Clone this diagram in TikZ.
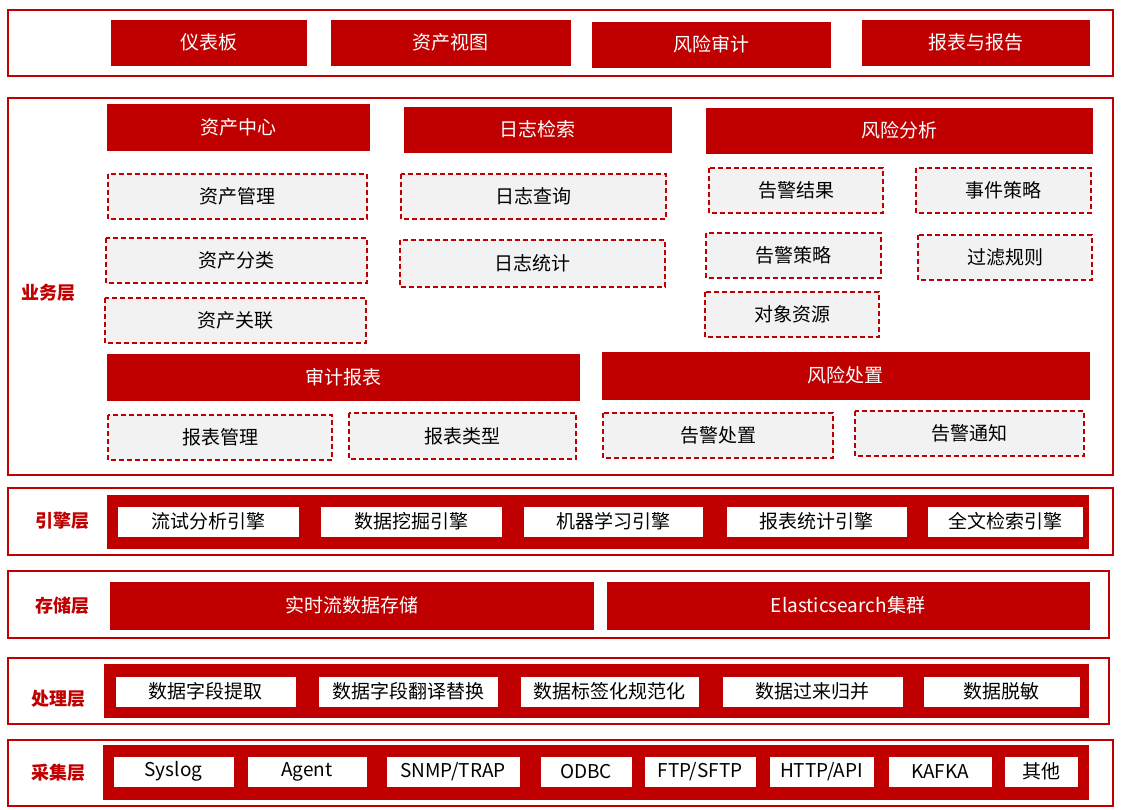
\documentclass[tikz,border=0pt]{standalone}
\usepackage{fontspec}
\setmainfont{Noto Sans CJK SC}
\definecolor{rd}{HTML}{C00000}
\definecolor{lg}{HTML}{F2F2F2}
\begin{document}
\begin{tikzpicture}[x=1pt,y=-1pt,
 panel/.style={draw=rd,line width=1.3pt},
 rbox/.style={fill=rd,draw=rd,text=white,font=\fontsize{19}{22}\selectfont},
 dbox/.style={draw=rd,dash pattern=on 5pt off 3pt,line width=1.2pt,fill=lg,font=\fontsize{19}{22}\selectfont},
 wbox/.style={fill=white,draw=white,font=\fontsize{19}{22}\selectfont},
 lab/.style={text=rd,font=\bfseries\fontsize{18}{20}\selectfont}]
\useasboundingbox (0,0) rectangle (1121,810);
\newcommand{\bx}[6]{\draw[#1] (#2,#3) rectangle (#4,#5) node[midway] (n#2x#3) {#6};}
% top
\bx{panel}{8}{10}{1113}{76}{}
\bx{rbox}{111}{20}{306}{65}{仪表板}
\bx{rbox}{331}{20}{570}{65}{资产视图}
\bx{rbox}{592}{22}{830}{67}{风险审计}
\bx{rbox}{862}{20}{1089}{65}{报表与报告}
% business
\bx{panel}{8}{98}{1113}{475}{}
\node[lab] (l1) at (48,293) {业务层};
\bx{rbox}{107}{104}{369}{150}{资产中心}
\bx{rbox}{404}{107}{671}{152}{日志检索}
\bx{rbox}{706}{108}{1092}{153}{风险分析}
\bx{dbox}{108}{174}{367}{219}{资产管理}
\bx{dbox}{106}{238}{367}{283}{资产分类}
\bx{dbox}{105}{298}{366}{343}{资产关联}
\bx{dbox}{401}{174}{666}{219}{日志查询}
\bx{dbox}{400}{240}{665}{287}{日志统计}
\bx{dbox}{709}{168}{883}{213}{告警结果}
\bx{dbox}{916}{168}{1091}{213}{事件策略}
\bx{dbox}{706}{233}{881}{278}{告警策略}
\bx{dbox}{918}{235}{1092}{280}{过滤规则}
\bx{dbox}{705}{292}{879}{337}{对象资源}
\bx{rbox}{107}{354}{579}{400}{审计报表}
\bx{rbox}{602}{352}{1089}{399}{风险处置}
\bx{dbox}{108}{415}{332}{460}{报表管理}
\bx{dbox}{349}{413}{576}{459}{报表类型}
\bx{dbox}{603}{413}{833}{458}{告警处置}
\bx{dbox}{855}{411}{1084}{456}{告警通知}
% engine
\bx{panel}{8}{488}{1113}{555}{}
\node[lab] (l2) at (62,521) {引擎层};
\fill[rd] (107,495) rectangle (1089,549);
\bx{wbox}{118}{507}{298}{536}{流试分析引擎}
\bx{wbox}{321}{507}{501}{536}{数据挖掘引擎}
\bx{wbox}{524}{507}{702}{536}{机器学习引擎}
\bx{wbox}{727}{507}{906}{536}{报表统计引擎}
\bx{wbox}{928}{507}{1082}{536}{全文检索引擎}
% storage
\bx{panel}{8}{571}{1109}{638}{}
\node[lab] (l3) at (62,606) {存储层};
\bx{rbox}{110}{582}{593}{629}{实时流数据存储}
\bx{rbox}{607}{582}{1089}{629}{Elasticsearch集群}
% processing
\bx{panel}{8}{658}{1109}{724}{}
\node[lab] (l4) at (58,699) {处理层};
\fill[rd] (104,664) rectangle (1089,718);
\bx{wbox}{116}{677}{295}{706}{数据字段提取}
\bx{wbox}{319}{677}{497}{706}{数据字段翻译替换}
\bx{wbox}{521}{677}{698}{706}{数据标签化规范化}
\bx{wbox}{723}{677}{902}{706}{数据过来归并}
\bx{wbox}{924}{677}{1079}{706}{数据脱敏}
% collection
\bx{panel}{8}{740}{1113}{806}{}
\node[lab] (l5) at (58,773) {采集层};
\fill[rd] (103,745) rectangle (1089,800);
\bx{wbox}{114}{757}{233}{786}{Syslog}
\bx{wbox}{248}{757}{366}{786}{Agent}
\bx{wbox}{387}{757}{519}{786}{SNMP/TRAP}
\bx{wbox}{541}{757}{631}{786}{ODBC}
\bx{wbox}{645}{757}{755}{786}{FTP/SFTP}
\bx{wbox}{770}{757}{873}{786}{HTTP/API}
\bx{wbox}{889}{757}{991}{786}{KAFKA}
\bx{wbox}{1005}{757}{1077}{786}{其他}
\end{tikzpicture}
\end{document}
